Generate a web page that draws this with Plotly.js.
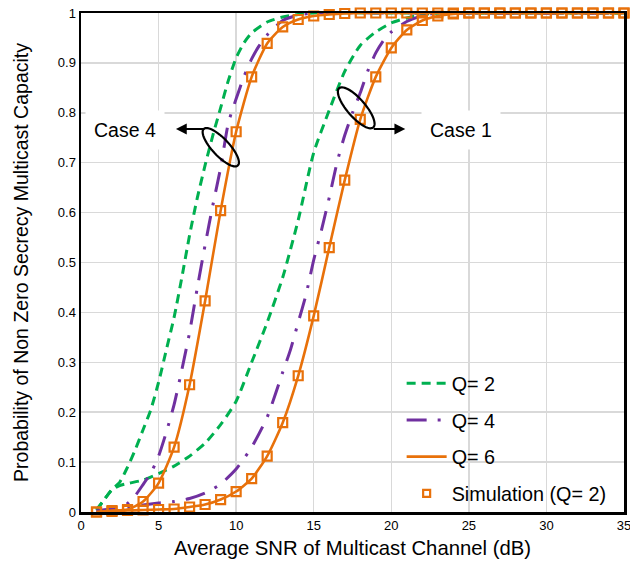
<!DOCTYPE html>
<html>
<head>
<meta charset="utf-8">
<script src="https://cdn.plot.ly/plotly-3.0.1.min.js"></script>
<style>
  html, body { margin: 0; padding: 0; background: #fff; }
  #chart { width: 630px; height: 571px; }
</style>
</head>
<body>
<div id="chart"></div>
<script>
// ---------------- DATA ----------------
// SNR (dB) grid for the Q=6 curves and simulation markers
const snrInt = [1,2,3,4,5,6,7,8,9,10,11,12,13,14,15,16,17,18,19,20,21,22,23,24,25,26,27,28,29,30,31,32,33,34,35];

// Case 4 (left family)
const case4_Q2_x = [1,1.5,2,2.5,3,3.5,4,4.5,5,5.5,6,6.5,7,7.5,8,8.5,9,9.5,10,10.5,11,12,13,14,15,20,25,30,35];
const case4_Q2_y = [0.004,0.025,0.045,0.06,0.09,0.125,0.165,0.205,0.26,0.325,0.39,0.47,0.555,0.63,0.695,0.755,0.81,0.865,0.91,0.94,0.96,0.982,0.992,0.997,1,1,1,1,1];
const case4_Q4_x = [1,2,2.5,3,3.5,4,4.5,5,5.5,6,6.5,7,7.5,8,8.5,9,9.5,10,10.5,11,11.5,12,13,14,15,20,25,30,35];
const case4_Q4_y = [0.002,0.006,0.01,0.017,0.033,0.055,0.078,0.112,0.16,0.215,0.285,0.36,0.45,0.535,0.615,0.69,0.78,0.828,0.872,0.908,0.935,0.956,0.985,0.996,1,1,1,1,1];
const case4_Q6_y = [0.0,0.003,0.005,0.021,0.058,0.13,0.255,0.423,0.604,0.762,0.872,0.939,0.972,0.987,0.994,0.997,0.999,1,1,1,1,1,1,1,1,1,1,1,1,1,1,1,1,1,1];

// Case 1 (right family)
const case1_Q2_x = [1,1.5,2,2.5,3,4,5,6,7,8,9,10,11,12,13,14,15,16,17,18,19,20,21,22,23,25,30,35];
const case1_Q2_y = [0.004,0.025,0.045,0.053,0.057,0.064,0.077,0.092,0.112,0.138,0.175,0.222,0.30,0.38,0.47,0.585,0.72,0.805,0.883,0.935,0.962,0.98,0.99,0.997,1,1,1,1];
const case1_Q4_x = [1,2,3,4,5,6,7,8,9,10,11,12,13,13.5,14,14.5,15,15.5,16,16.5,17,17.5,18,18.5,19,19.5,20,21,22,23,25,30,35];
const case1_Q4_y = [0.002,0.006,0.01,0.014,0.018,0.021,0.027,0.038,0.056,0.086,0.13,0.19,0.28,0.325,0.38,0.435,0.505,0.565,0.63,0.7,0.755,0.8,0.84,0.885,0.92,0.945,0.962,0.983,0.995,1,1,1,1];
const case1_Q6_y = [0.0,0.001,0.003,0.004,0.005,0.006,0.01,0.015,0.025,0.041,0.067,0.112,0.179,0.273,0.393,0.53,0.665,0.787,0.872,0.93,0.966,0.985,0.994,0.998,1,1,1,1,1,1,1,1,1,1,1];

const seriesNames = ["Q= 2", "Q= 4", "Q= 6", "Simulation (Q= 2)"];
const xTickVals = [0,5,10,15,20,25,30,35];
const yTickVals = [0,0.1,0.2,0.3,0.4,0.5,0.6,0.7,0.8,0.9,1];
const yTickText = ["0","0.1","0.2","0.3","0.4","0.5","0.6","0.7","0.8","0.9","1"];

// ---------------- STYLE ----------------
const GREEN = "#00B050", PURPLE = "#7030A0", ORANGE = "#E8710A";
const FONT = 'Arial, "Liberation Sans", sans-serif';
const greenLine  = {color: GREEN,  width: 3, dash: "9px,6px", shape: "spline", smoothing: 0.6};
const purpleLine = {color: PURPLE, width: 3, dash: "20px,11px,3px,11px", shape: "spline", smoothing: 0.6};
const orangeLine = {color: ORANGE, width: 2.6, shape: "spline", smoothing: 0.6};
const simMarker  = {symbol: "square-open", size: 9, color: ORANGE, line: {width: 2.2, color: ORANGE}};

const traces = [
  {x: case4_Q2_x, y: case4_Q2_y, mode: "lines", line: greenLine, name: seriesNames[0], legendgroup: "g1"},
  {x: case1_Q2_x, y: case1_Q2_y, mode: "lines", line: greenLine, name: seriesNames[0], legendgroup: "g1", showlegend: false},
  {x: case4_Q4_x, y: case4_Q4_y, mode: "lines", line: purpleLine, name: seriesNames[1], legendgroup: "g2"},
  {x: case1_Q4_x, y: case1_Q4_y, mode: "lines", line: purpleLine, name: seriesNames[1], legendgroup: "g2", showlegend: false},
  {x: snrInt, y: case4_Q6_y, mode: "lines", line: orangeLine, name: seriesNames[2], legendgroup: "g3"},
  {x: snrInt, y: case1_Q6_y, mode: "lines", line: orangeLine, name: seriesNames[2], legendgroup: "g3", showlegend: false},
  {x: snrInt, y: case4_Q6_y, mode: "markers", marker: simMarker, cliponaxis: false, name: seriesNames[3], legendgroup: "g4", showlegend: false},
  {x: snrInt, y: case1_Q6_y, mode: "markers", marker: simMarker, cliponaxis: false, name: seriesNames[3], legendgroup: "g4", showlegend: false},
  {x: [null], y: [null], mode: "markers", marker: {symbol: "square-open", size: 7, color: ORANGE, line: {width: 2.2, color: ORANGE}}, name: seriesNames[3], legendgroup: "g4"}
];

// ---------------- LAYOUT ----------------
const M = {l: 81, r: 6, t: 13, b: 59};
const W = 630, H = 571;
const plotW = W - M.l - M.r, plotH = H - M.t - M.b;
const xRange = [0, 35], yRange = [0, 1];
const kx = (xRange[1]-xRange[0]) / plotW, ky = (yRange[1]-yRange[0]) / plotH;

function ellipsePath(cx, cy, a, b, angDeg) {
  const th = angDeg * Math.PI / 180;
  let d = "";
  for (let i = 0; i <= 60; i++) {
    const t = 2 * Math.PI * i / 60;
    const dx = a*Math.cos(t)*Math.cos(th) - b*Math.sin(t)*Math.sin(th);
    const dy = a*Math.cos(t)*Math.sin(th) + b*Math.sin(t)*Math.cos(th); // screen-down
    const x = cx + dx*kx, y = cy - dy*ky;
    d += (i === 0 ? "M" : "L") + x.toFixed(4) + "," + y.toFixed(4);
  }
  return d + "Z";
}

const layout = {
  width: W, height: H,
  margin: M,
  paper_bgcolor: "#fff", plot_bgcolor: "#fff",
  font: {family: FONT, color: "#000", size: 13},
  showlegend: true,
  legend: {
    x: 0.5905, y: 0.297, xanchor: "left", yanchor: "top",
    bgcolor: "rgba(0,0,0,0)", borderwidth: 0,
    font: {family: FONT, size: 19.8, color: "#000"},
    itemwidth: 40, tracegroupgap: 8, traceorder: "grouped"
  },
  xaxis: {
    range: xRange, tickvals: xTickVals, ticks: "", ticklabeloverflow: "allow",
    showgrid: true, gridcolor: "#d9d9d9", gridwidth: 1.5,
    zeroline: false, showline: true, linecolor: "#000", linewidth: 2.5, mirror: true,
    tickfont: {family: FONT, size: 13, color: "#000"},
    title: {text: "Average SNR of Multicast Channel (dB)", font: {family: FONT, size: 20.3, color: "#000"}, standoff: 9}
  },
  yaxis: {
    range: yRange, tickvals: yTickVals, ticktext: yTickText, ticks: "",
    showgrid: true, gridcolor: "#d9d9d9", gridwidth: 1.5,
    zeroline: false, showline: true, linecolor: "#000", linewidth: 2.5, mirror: true,
    tickfont: {family: FONT, size: 13, color: "#000"},
    title: {text: "Probability of Non Zero Secrecy Multicast Capacity", font: {family: FONT, size: 19.5, color: "#000"}, standoff: 24}
  },
  shapes: [
    {type: "path", xref: "x", yref: "y", path: ellipsePath(9.01, 0.731, 25, 8.5, 47), line: {color: "#000", width: 2.2}},
    {type: "path", xref: "x", yref: "y", path: ellipsePath(17.74, 0.81, 26, 9, 49), line: {color: "#000", width: 2.2}}
  ],
  annotations: [
    {x: 2.84, y: 0.766, xref: "x", yref: "y", text: "Case 4", showarrow: false, bgcolor: "#fff", borderpad: 8,
     font: {family: FONT, size: 19.5, color: "#000"}},
    {x: 24.5, y: 0.766, xref: "x", yref: "y", text: "Case 1", showarrow: false, bgcolor: "#fff", borderpad: 8,
     font: {family: FONT, size: 19.5, color: "#000"}},
    {x: 6.12, y: 0.7675, xref: "x", yref: "y", text: "", showarrow: true, ax: 30, ay: 0,
     arrowhead: 2, arrowsize: 1.2, arrowwidth: 1.8, arrowcolor: "#000", standoff: 0},
    {x: 20.9, y: 0.7675, xref: "x", yref: "y", text: "", showarrow: true, ax: -33, ay: 0,
     arrowhead: 2, arrowsize: 1.2, arrowwidth: 1.8, arrowcolor: "#000", standoff: 0}
  ]
};

Plotly.newPlot("chart", traces, layout, {displayModeBar: false, staticPlot: true});
</script>
</body>
</html>
